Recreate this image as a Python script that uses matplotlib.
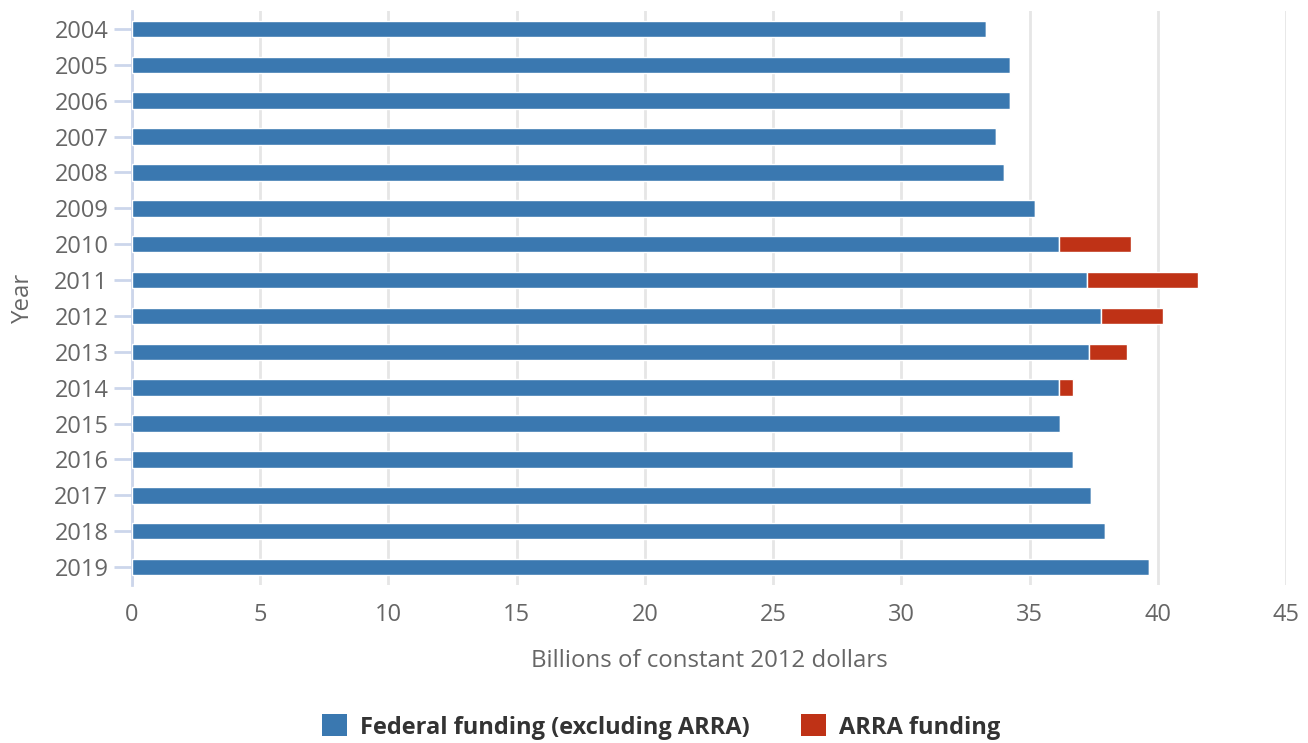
import matplotlib
matplotlib.use("Agg")
import matplotlib.pyplot as plt
from matplotlib.patches import Patch

years = ["2004", "2005", "2006", "2007", "2008", "2009", "2010", "2011",
         "2012", "2013", "2014", "2015", "2016", "2017", "2018", "2019"]
federal = [33.3, 34.25, 34.25, 33.7, 34.0, 35.2, 36.15, 37.25,
           37.8, 37.3, 36.15, 36.2, 36.7, 37.4, 37.95, 39.65]
arra = [0, 0, 0, 0, 0, 0, 2.8, 4.3, 2.4, 1.5, 0.55, 0, 0, 0, 0, 0]
x_ticks = [0, 5, 10, 15, 20, 25, 30, 35, 40, 45]

BLUE = "#3a78b0"
RED = "#bf3216"
GREY = "#666666"
AXIS = "#ccd6eb"

plt.rcParams["font.family"] = ["Open Sans", "DejaVu Sans"]

fig = plt.figure(figsize=(13.08, 7.43), dpi=100)
ax = fig.add_axes([132 / 1308, 1 - 585 / 743, (1286 - 132) / 1308, (585 - 11) / 743])

pos = list(range(len(years)))
h = 0.46
ax.barh(pos, federal, height=h, color=BLUE, edgecolor="white", linewidth=1, zorder=3)
ax.barh(pos, arra, left=federal, height=h, color=RED, edgecolor="white", linewidth=1, zorder=3)

ax.set_xlim(0, 45)
ax.set_ylim(len(years) - 0.5, -0.5)
ax.set_xticks(x_ticks)
ax.set_xticklabels([str(t) for t in x_ticks])
ax.set_yticks(pos)
ax.set_yticklabels(years)

ax.grid(axis="x", color="#e6e6e6", linewidth=2, zorder=0)
ax.grid(axis="y", visible=False)
for s in ["top", "right", "bottom"]:
    ax.spines[s].set_visible(False)
ax.spines["left"].set_color(AXIS)
ax.spines["left"].set_linewidth(2)

ax.tick_params(axis="y", length=13, width=2, color=AXIS, labelcolor=GREY, labelsize=17, pad=4)
ax.tick_params(axis="x", length=0, labelcolor=GREY, labelsize=17, pad=13)

ax.set_xlabel("Billions of constant 2012 dollars", color=GREY, fontsize=17.3, labelpad=16)
ax.set_ylabel("Year", color=GREY, fontsize=17.3, labelpad=14)

handles = [Patch(facecolor=BLUE, edgecolor="none", label="Federal funding (excluding ARRA)"),
           Patch(facecolor=RED, edgecolor="none", label="ARRA funding")]
leg = fig.legend(handles=handles, loc="center", bbox_to_anchor=(661 / 1308, 1 - 727 / 743),
                 ncol=2, frameon=False, handlelength=1.05, handleheight=1.05,
                 handletextpad=0.55, columnspacing=2.2,
                 prop={"family": ["Open Sans", "DejaVu Sans"], "weight": "bold", "size": 17})
for t in leg.get_texts():
    t.set_color("#333333")

fig.savefig("out.png", dpi=100)
